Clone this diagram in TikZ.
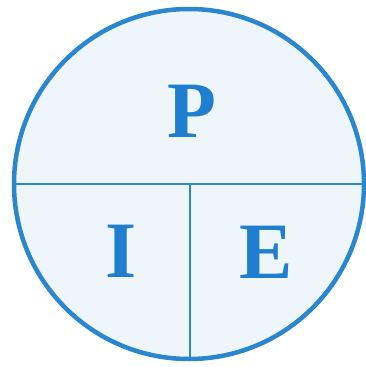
\documentclass[tikz,border=0pt]{standalone}
\usepackage{fontspec}
\setmainfont{Liberation Serif}
\definecolor{ringblue}{HTML}{2A86CE}
\definecolor{fillblue}{HTML}{EEF6FC}
\definecolor{letterblue}{HTML}{1F7ECF}
\tikzset{
  ring/.style={draw=ringblue, line width=4.5pt, fill=fillblue},
  divider/.style={draw=ringblue, line width=1.8pt},
  letter/.style={text=letterblue, font=\fontsize{80}{84}\selectfont\bfseries, inner sep=0pt, anchor=base}
}
\begin{document}
\begin{tikzpicture}[x=1pt,y=-1pt]
\useasboundingbox (0,0) rectangle (366,367);
\node[circle, ring, minimum size=350pt, inner sep=0pt] (c) at (189,184) {};
\draw[divider] (c.west) -- (c.east);
\coordinate (mid) at (190,184);
\draw[divider] (mid) -- (mid |- c.south);
\node[letter] (p) at (192,137) {P};
\node[letter] (i) at (121,277) {I};
\node[letter] (e) at (266,278) {E};
\end{tikzpicture}
\end{document}
